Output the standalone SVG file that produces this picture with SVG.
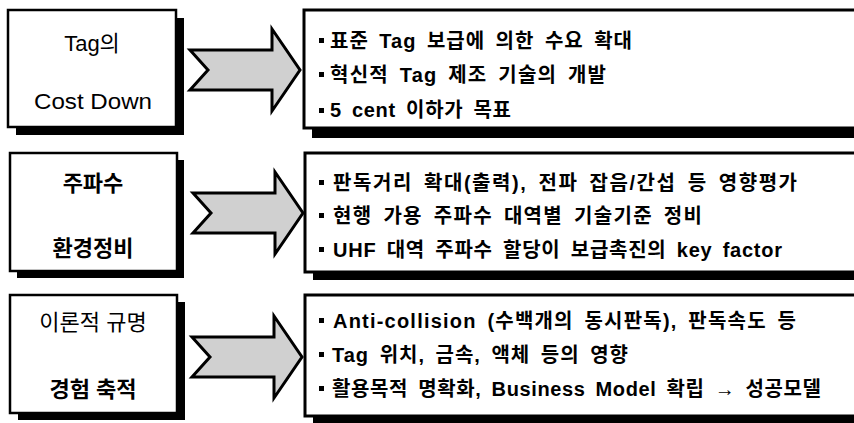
<svg xmlns="http://www.w3.org/2000/svg" width="854" height="423" viewBox="0 0 854 423">
<style>
.box{fill:#fff;stroke:#000;stroke-width:2.5}
.rbox{fill:#fff;stroke:#000;stroke-width:3}
.shadow{fill:#000}
.arrow{fill:#d0d0d0;stroke:#000;stroke-width:3;stroke-linejoin:miter}
.lt{font-family:"Liberation Sans","Noto Sans CJK KR",sans-serif;font-size:22px;text-anchor:middle;fill:#000}
.b{font-weight:bold}
.rt{font-family:"Liberation Sans","Noto Sans CJK KR",sans-serif;font-size:20px;font-weight:bold;word-spacing:4px;letter-spacing:1px;fill:#000}
.bul{fill:#000}
</style>
<defs>
<path id="arr" d="M190,50 L272,50 L272,29 L300,70 L272,111 L272,90 L190,90 L208,70 Z"/>
</defs>
<rect width="854" height="423" fill="#fff"/>

<g id="connectors">
<use href="#arr" class="arrow"/>
<use href="#arr" class="arrow" transform="translate(3,143)"/>
<use href="#arr" class="arrow" transform="translate(2,287)"/>
</g>

<g id="node-cost">
<rect class="shadow" x="16" y="18" width="168" height="117"/>
<rect class="box" x="8" y="10" width="168" height="117"/>
<text class="lt" x="92" y="51">Tag의</text>
<text class="lt" x="93" y="109" textLength="118" lengthAdjust="spacingAndGlyphs">Cost Down</text>
</g>

<g id="node-freq">
<rect class="shadow" x="17" y="160" width="167" height="118"/>
<rect class="box" x="10" y="153" width="167" height="118"/>
<text class="lt b" x="93" y="191">주파수</text>
<text class="lt b" x="93" y="256">환경정비</text>
</g>

<g id="node-theory">
<rect class="shadow" x="18" y="302" width="167" height="118"/>
<rect class="box" x="10" y="295" width="167" height="118"/>
<text class="lt" x="93" y="330">이론적 규명</text>
<text class="lt b" x="93" y="397">경험 축적</text>
</g>

<g id="detail-cost">
<rect class="shadow" x="312" y="20" width="560" height="118"/>
<rect class="rbox" x="304" y="10" width="560" height="118"/>
<rect class="bul" x="319" y="38" width="5" height="5"/>
<rect class="bul" x="319" y="72" width="5" height="5"/>
<rect class="bul" x="319" y="108" width="5" height="5"/>
<text class="rt" x="330" y="48" textLength="303" lengthAdjust="spacing">표준 Tag 보급에 의한 수요 확대</text>
<text class="rt" x="330" y="82" textLength="277" lengthAdjust="spacing">혁신적 Tag 제조 기술의 개발</text>
<text class="rt" x="330" y="117" textLength="182" lengthAdjust="spacing">5 cent 이하가 목표</text>
</g>

<g id="detail-freq">
<rect class="shadow" x="313" y="161" width="560" height="119"/>
<rect class="rbox" x="305" y="153" width="560" height="119"/>
<rect class="bul" x="319" y="180" width="5" height="5"/>
<rect class="bul" x="319" y="213" width="5" height="5"/>
<rect class="bul" x="319" y="247" width="5" height="5"/>
<text class="rt" x="333" y="190" textLength="465" lengthAdjust="spacing">판독거리 확대(출력), 전파 잡음/간섭 등 영향평가</text>
<text class="rt" x="333" y="223" textLength="370" lengthAdjust="spacing">현행 가용 주파수 대역별 기술기준 정비</text>
<text class="rt" x="333" y="257" textLength="450" lengthAdjust="spacing">UHF 대역 주파수 할당이 보급촉진의 key factor</text>
</g>

<g id="detail-theory">
<rect class="shadow" x="313" y="303" width="560" height="121"/>
<rect class="rbox" x="305" y="295" width="560" height="121"/>
<rect class="bul" x="319" y="318" width="5" height="5"/>
<rect class="bul" x="319" y="352" width="5" height="5"/>
<rect class="bul" x="319" y="386" width="5" height="5"/>
<text class="rt" x="333" y="328" textLength="464" lengthAdjust="spacing">Anti-collision  (수백개의 동시판독), 판독속도 등</text>
<text class="rt" x="332" y="362">Tag 위치, 금속, 액체 등의 영향</text>
<text class="rt" x="332" y="396" textLength="490" lengthAdjust="spacing">활용목적 명확화, Business Model 확립 → 성공모델</text>
</g>
</svg>
